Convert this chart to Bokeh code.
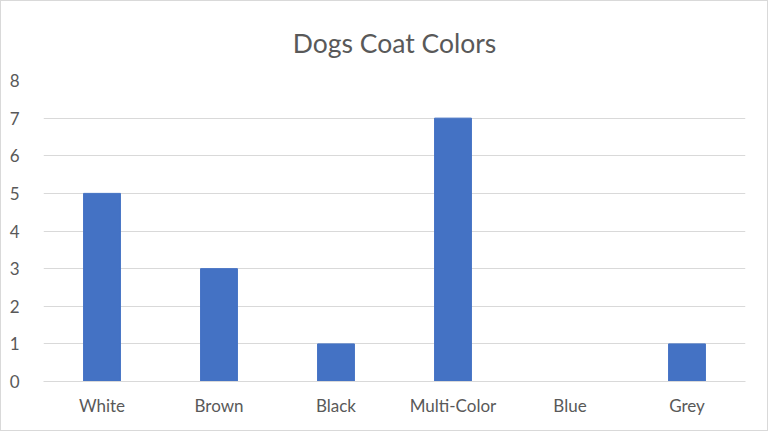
from bokeh.plotting import figure
from bokeh.embed import file_html
from bokeh.resources import INLINE
from bokeh.models import Range1d, FixedTicker

categories = ["White", "Brown", "Black", "Multi-Color", "Blue", "Grey"]
counts = [5, 3, 1, 7, 0, 1]
y_ticks = [0, 1, 2, 3, 4, 5, 6, 7, 8]

FONT = "Lato"
TXT = "#595959"
GRID = "#D9D9D9"

p = figure(x_range=categories, width=768, height=431, output_backend="svg",
           toolbar_location=None, title="Dogs Coat Colors",
           min_border_left=42, min_border_right=24, min_border_top=79, min_border_bottom=51)
p.y_range = Range1d(0, 8)
p.x_range.range_padding = 0
p.vbar(x=categories, top=counts, width=0.315, color="#4472C4")

p.title.align = "center"
p.title.text_font = FONT
p.title.text_font_size = "26.5px"
p.title.text_font_style = "normal"
p.title.text_color = TXT
p.title.standoff = 43

p.yaxis.ticker = FixedTicker(ticks=y_ticks)
p.yaxis.axis_line_color = None
p.yaxis.major_tick_line_color = None
p.yaxis.minor_tick_line_color = None
p.yaxis.major_label_text_font = FONT
p.yaxis.major_label_text_font_size = "17px"
p.yaxis.major_label_text_color = TXT
p.yaxis.major_label_standoff = 18

p.xaxis.axis_line_color = GRID
p.xaxis.axis_line_width = 1
p.xaxis.major_tick_line_color = None
p.xaxis.minor_tick_line_color = None
p.xaxis.major_label_text_font = FONT
p.xaxis.major_label_text_font_size = "17px"
p.xaxis.major_label_text_color = TXT
p.xaxis.major_label_standoff = 7

p.xgrid.grid_line_color = None
p.ygrid.grid_line_color = GRID
p.outline_line_color = None
p.background_fill_color = "white"
p.border_fill_color = "white"
p.styles = {"border": "1px solid #D9D9D9", "box-sizing": "border-box"}

open("out.html", "w").write(file_html(p, INLINE))
